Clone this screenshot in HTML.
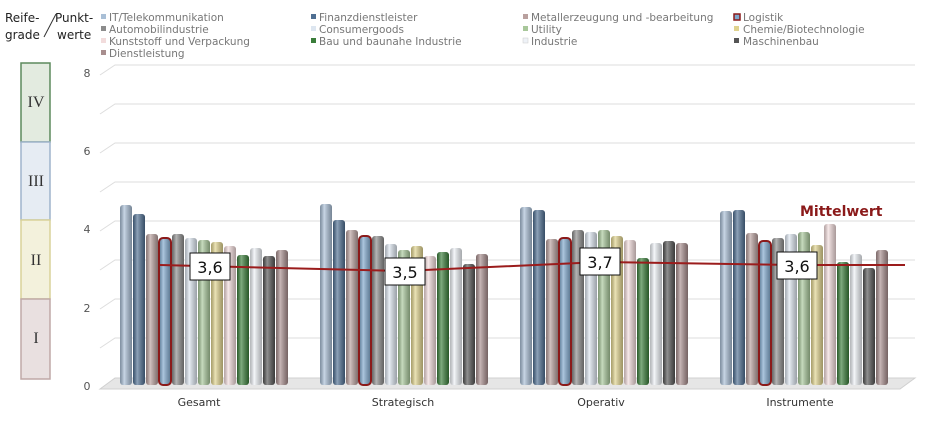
<!DOCTYPE html>
<html><head><meta charset="utf-8"><style>
body{margin:0;background:#fff;}
.s{font-family:"DejaVu Sans","Liberation Sans",sans-serif;}
.r{font-family:"Liberation Serif",serif;}
</style></head><body>
<svg width="939" height="417" xmlns="http://www.w3.org/2000/svg">
<defs>
<linearGradient id="sh" x1="0" x2="1" y1="0" y2="0">
<stop offset="0" stop-color="#000" stop-opacity="0.25"/>
<stop offset="0.35" stop-color="#fff" stop-opacity="0.35"/>
<stop offset="1" stop-color="#000" stop-opacity="0.3"/>
</linearGradient>
</defs>
<g class="s">
<text x="5" y="22" font-size="12" fill="#222">Reife-</text>
<text x="5" y="39" font-size="12" fill="#222">grade</text>
<text x="55" y="22" font-size="12" fill="#222">Punkt-</text>
<text x="57" y="39" font-size="12" fill="#222">werte</text>
</g>
<line x1="44" y1="37" x2="56" y2="14" stroke="#333" stroke-width="1"/>
<g font-size="10.5" fill="#777" class="s">
<rect x="101" y="14" width="5" height="5" fill="#a9bfd6"/><text x="109" y="21">IT/Telekommunikation</text>
<rect x="101" y="26" width="5" height="5" fill="#8c8c8c"/><text x="109" y="33">Automobilindustrie</text>
<rect x="101" y="38" width="5" height="5" fill="#f2dcdc"/><text x="109" y="45">Kunststoff und Verpackung</text>
<rect x="101" y="50" width="5" height="5" fill="#a88e8e"/><text x="109" y="57">Dienstleistung</text>
<rect x="311" y="14" width="5" height="5" fill="#4f6f92"/><text x="319" y="21">Finanzdienstleister</text>
<rect x="311" y="26" width="5" height="5" fill="#dde6f0"/><text x="319" y="33">Consumergoods</text>
<rect x="311" y="38" width="5" height="5" fill="#3a7d3a"/><text x="319" y="45">Bau und baunahe Industrie</text>
<rect x="523" y="14" width="5" height="5" fill="#b9a09e"/><text x="531" y="21">Metallerzeugung und -bearbeitung</text>
<rect x="523" y="26" width="5" height="5" fill="#a8c79a"/><text x="531" y="33">Utility</text>
<rect x="523" y="38" width="5" height="5" fill="#eef2f7" stroke="#ccc" stroke-width="0.5"/><text x="531" y="45">Industrie</text>
<rect x="734" y="14" width="6" height="6" fill="#7ea7cc" stroke="#8b1a1a" stroke-width="1.5"/><text x="743" y="21">Logistik</text>
<rect x="734" y="26" width="5" height="5" fill="#e0d38e"/><text x="743" y="33">Chemie/Biotechnologie</text>
<rect x="734" y="38" width="5" height="5" fill="#555"/><text x="743" y="45">Maschinenbau</text>
</g>
<g stroke-width="1.5">
<rect x="21" y="63" width="29" height="79" fill="#e3ebe0" stroke="#5d8a5d"/>
<rect x="21" y="142" width="29" height="78" fill="#e6ecf3" stroke="#9fb4cc"/>
<rect x="21" y="220" width="29" height="79" fill="#f3f1dc" stroke="#d9d29a"/>
<rect x="21" y="299" width="29" height="80" fill="#e9e0e0" stroke="#bfa9a7"/>
</g>
<g class="r" font-size="16" fill="#333" text-anchor="middle">
<text x="36" y="107">IV</text><text x="36" y="186">III</text><text x="36" y="265">II</text><text x="36" y="343">I</text>
</g>
<g stroke="#ddd" stroke-width="1" fill="none">
<path d="M100 75 L115 65 H915"/><path d="M100 114 L115 104 H915"/><path d="M100 153 L115 143 H915"/><path d="M100 192 L115 182 H915"/>
<path d="M100 231 L115 221 H915"/><path d="M100 270 L115 260 H915"/><path d="M100 309 L115 299 H915"/><path d="M100 348 L115 338 H915"/>
</g>
<polygon points="100,389 115,378 915,378 900,389" fill="#e6e6e6" stroke="#d0d0d0"/>
<g font-size="11" fill="#555" text-anchor="middle" class="s">
<text x="87" y="77">8</text><text x="87" y="155">6</text><text x="87" y="233">4</text><text x="87" y="312">2</text><text x="87" y="390">0</text>
</g>

<!-- Gesamt -->
<g transform="translate(120,0)">
<rect x="0" y="205" width="12" height="180" rx="3" fill="#a9bfd6"/>
<rect x="13" y="214" width="12" height="171" rx="3" fill="#4f6f92"/>
<rect x="26" y="234" width="12" height="151" rx="3" fill="#b9a09e"/>
<rect x="39" y="238" width="12" height="147" rx="3" fill="#7ea7cc"/>
<rect x="52" y="234" width="12" height="151" rx="3" fill="#8c8c8c"/>
<rect x="65" y="238" width="12" height="147" rx="3" fill="#dde6f0"/>
<rect x="78" y="240" width="12" height="145" rx="3" fill="#a8c79a"/>
<rect x="91" y="242" width="12" height="143" rx="3" fill="#e0d38e"/>
<rect x="104" y="246" width="12" height="139" rx="3" fill="#f2dcdc"/>
<rect x="117" y="255" width="12" height="130" rx="3" fill="#3a7d3a"/>
<rect x="130" y="248" width="12" height="137" rx="3" fill="#eef2f7"/>
<rect x="143" y="256" width="12" height="129" rx="3" fill="#555555"/>
<rect x="156" y="250" width="12" height="135" rx="3" fill="#a88e8e"/>
<g fill="url(#sh)">
<rect x="0" y="205" width="12" height="180" rx="3"/><rect x="13" y="214" width="12" height="171" rx="3"/><rect x="26" y="234" width="12" height="151" rx="3"/><rect x="39" y="238" width="12" height="147" rx="3"/><rect x="52" y="234" width="12" height="151" rx="3"/><rect x="65" y="238" width="12" height="147" rx="3"/><rect x="78" y="240" width="12" height="145" rx="3"/><rect x="91" y="242" width="12" height="143" rx="3"/><rect x="104" y="246" width="12" height="139" rx="3"/><rect x="117" y="255" width="12" height="130" rx="3"/><rect x="130" y="248" width="12" height="137" rx="3"/><rect x="143" y="256" width="12" height="129" rx="3"/><rect x="156" y="250" width="12" height="135" rx="3"/>
</g>
<rect x="39" y="238" width="12" height="147" rx="4" fill="none" stroke="#8b1a1a" stroke-width="2"/>
</g>

<!-- Strategisch -->
<g transform="translate(320,0)">
<rect x="0" y="204" width="12" height="181" rx="3" fill="#a9bfd6"/>
<rect x="13" y="220" width="12" height="165" rx="3" fill="#4f6f92"/>
<rect x="26" y="230" width="12" height="155" rx="3" fill="#b9a09e"/>
<rect x="39" y="236" width="12" height="149" rx="3" fill="#7ea7cc"/>
<rect x="52" y="236" width="12" height="149" rx="3" fill="#8c8c8c"/>
<rect x="65" y="244" width="12" height="141" rx="3" fill="#dde6f0"/>
<rect x="78" y="250" width="12" height="135" rx="3" fill="#a8c79a"/>
<rect x="91" y="246" width="12" height="139" rx="3" fill="#e0d38e"/>
<rect x="104" y="256" width="12" height="129" rx="3" fill="#f2dcdc"/>
<rect x="117" y="252" width="12" height="133" rx="3" fill="#3a7d3a"/>
<rect x="130" y="248" width="12" height="137" rx="3" fill="#eef2f7"/>
<rect x="143" y="264" width="12" height="121" rx="3" fill="#555555"/>
<rect x="156" y="254" width="12" height="131" rx="3" fill="#a88e8e"/>
<g fill="url(#sh)">
<rect x="0" y="204" width="12" height="181" rx="3"/><rect x="13" y="220" width="12" height="165" rx="3"/><rect x="26" y="230" width="12" height="155" rx="3"/><rect x="39" y="236" width="12" height="149" rx="3"/><rect x="52" y="236" width="12" height="149" rx="3"/><rect x="65" y="244" width="12" height="141" rx="3"/><rect x="78" y="250" width="12" height="135" rx="3"/><rect x="91" y="246" width="12" height="139" rx="3"/><rect x="104" y="256" width="12" height="129" rx="3"/><rect x="117" y="252" width="12" height="133" rx="3"/><rect x="130" y="248" width="12" height="137" rx="3"/><rect x="143" y="264" width="12" height="121" rx="3"/><rect x="156" y="254" width="12" height="131" rx="3"/>
</g>
<rect x="39" y="236" width="12" height="149" rx="4" fill="none" stroke="#8b1a1a" stroke-width="2"/>
</g>

<!-- Operativ -->
<g transform="translate(520,0)">
<rect x="0" y="207" width="12" height="178" rx="3" fill="#a9bfd6"/>
<rect x="13" y="210" width="12" height="175" rx="3" fill="#4f6f92"/>
<rect x="26" y="239" width="12" height="146" rx="3" fill="#b9a09e"/>
<rect x="39" y="238" width="12" height="147" rx="3" fill="#7ea7cc"/>
<rect x="52" y="230" width="12" height="155" rx="3" fill="#8c8c8c"/>
<rect x="65" y="232" width="12" height="153" rx="3" fill="#dde6f0"/>
<rect x="78" y="230" width="12" height="155" rx="3" fill="#a8c79a"/>
<rect x="91" y="236" width="12" height="149" rx="3" fill="#e0d38e"/>
<rect x="104" y="240" width="12" height="145" rx="3" fill="#f2dcdc"/>
<rect x="117" y="258" width="12" height="127" rx="3" fill="#3a7d3a"/>
<rect x="130" y="243" width="12" height="142" rx="3" fill="#eef2f7"/>
<rect x="143" y="241" width="12" height="144" rx="3" fill="#555555"/>
<rect x="156" y="243" width="12" height="142" rx="3" fill="#a88e8e"/>
<g fill="url(#sh)">
<rect x="0" y="207" width="12" height="178" rx="3"/><rect x="13" y="210" width="12" height="175" rx="3"/><rect x="26" y="239" width="12" height="146" rx="3"/><rect x="39" y="238" width="12" height="147" rx="3"/><rect x="52" y="230" width="12" height="155" rx="3"/><rect x="65" y="232" width="12" height="153" rx="3"/><rect x="78" y="230" width="12" height="155" rx="3"/><rect x="91" y="236" width="12" height="149" rx="3"/><rect x="104" y="240" width="12" height="145" rx="3"/><rect x="117" y="258" width="12" height="127" rx="3"/><rect x="130" y="243" width="12" height="142" rx="3"/><rect x="143" y="241" width="12" height="144" rx="3"/><rect x="156" y="243" width="12" height="142" rx="3"/>
</g>
<rect x="39" y="238" width="12" height="147" rx="4" fill="none" stroke="#8b1a1a" stroke-width="2"/>
</g>

<!-- Instrumente -->
<g transform="translate(720,0)">
<rect x="0" y="211" width="12" height="174" rx="3" fill="#a9bfd6"/>
<rect x="13" y="210" width="12" height="175" rx="3" fill="#4f6f92"/>
<rect x="26" y="233" width="12" height="152" rx="3" fill="#b9a09e"/>
<rect x="39" y="241" width="12" height="144" rx="3" fill="#7ea7cc"/>
<rect x="52" y="238" width="12" height="147" rx="3" fill="#8c8c8c"/>
<rect x="65" y="234" width="12" height="151" rx="3" fill="#dde6f0"/>
<rect x="78" y="232" width="12" height="153" rx="3" fill="#a8c79a"/>
<rect x="91" y="245" width="12" height="140" rx="3" fill="#e0d38e"/>
<rect x="104" y="224" width="12" height="161" rx="3" fill="#f2dcdc"/>
<rect x="117" y="262" width="12" height="123" rx="3" fill="#3a7d3a"/>
<rect x="130" y="254" width="12" height="131" rx="3" fill="#eef2f7"/>
<rect x="143" y="268" width="12" height="117" rx="3" fill="#555555"/>
<rect x="156" y="250" width="12" height="135" rx="3" fill="#a88e8e"/>
<g fill="url(#sh)">
<rect x="0" y="211" width="12" height="174" rx="3"/><rect x="13" y="210" width="12" height="175" rx="3"/><rect x="26" y="233" width="12" height="152" rx="3"/><rect x="39" y="241" width="12" height="144" rx="3"/><rect x="52" y="238" width="12" height="147" rx="3"/><rect x="65" y="234" width="12" height="151" rx="3"/><rect x="78" y="232" width="12" height="153" rx="3"/><rect x="91" y="245" width="12" height="140" rx="3"/><rect x="104" y="224" width="12" height="161" rx="3"/><rect x="117" y="262" width="12" height="123" rx="3"/><rect x="130" y="254" width="12" height="131" rx="3"/><rect x="143" y="268" width="12" height="117" rx="3"/><rect x="156" y="250" width="12" height="135" rx="3"/>
</g>
<rect x="39" y="241" width="12" height="144" rx="4" fill="none" stroke="#8b1a1a" stroke-width="2"/>
</g>

<polyline points="160,265 403,271 601,262 797,265 905,265" fill="none" stroke="#9b1c1c" stroke-width="2"/>
<g font-size="16" fill="#111" text-anchor="middle" class="s">
<rect x="190" y="253" width="40" height="27" fill="#fff" stroke="#111"/><text x="210" y="273">3,6</text>
<rect x="385" y="258" width="40" height="27" fill="#fff" stroke="#111"/><text x="405" y="278">3,5</text>
<rect x="580" y="248" width="40" height="27" fill="#fff" stroke="#111"/><text x="600" y="268">3,7</text>
<rect x="777" y="252" width="40" height="27" fill="#fff" stroke="#111"/><text x="797" y="272">3,6</text>
</g>
<text class="s" x="800" y="216" font-size="14" font-weight="bold" fill="#8b1a1a">Mittelwert</text>
<g font-size="11" fill="#333" text-anchor="middle" class="s">
<text x="199" y="406">Gesamt</text><text x="403" y="406">Strategisch</text><text x="601" y="406">Operativ</text><text x="800" y="406">Instrumente</text>
</g>
</svg>
</body></html>
